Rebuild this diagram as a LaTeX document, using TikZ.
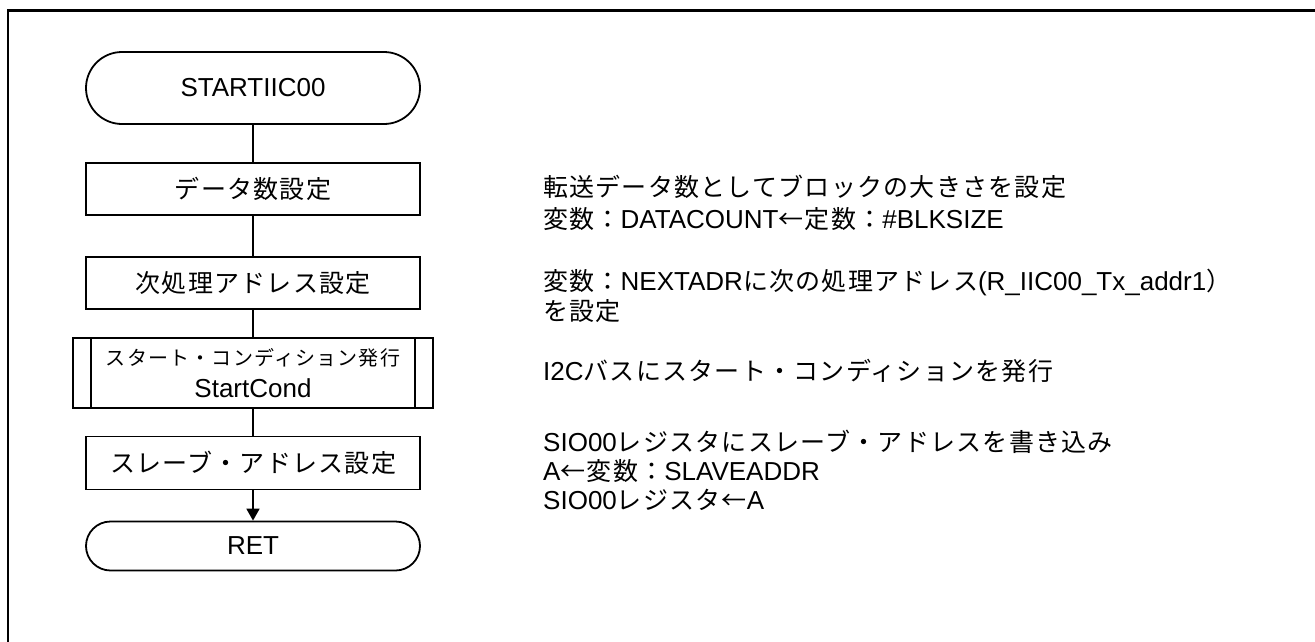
\documentclass[tikz,border=0pt]{standalone}
\usepackage{fontspec}
\setmainfont{Liberation Sans}
\newfontfamily\jp[LetterSpace=5]{Noto Sans CJK JP}
\newfontfamily\jpsub[LetterSpace=6]{Noto Sans CJK JP}
\newcommand{\J}[1]{{\fontsize{25}{30}\selectfont\jp #1}}
\usetikzlibrary{shapes.misc,arrows.meta}
\begin{document}
\begin{tikzpicture}[x=1pt,y=-1pt,
  lw/.style={line width=1.8pt},
  term/.style={lw,draw,rounded rectangle,minimum width=334pt,inner sep=0pt,font=\fontsize{26}{31}\selectfont},
  proc/.style={lw,draw,rectangle,minimum width=334pt,minimum height=52pt,inner sep=0pt,font=\fontsize{26}{31}\selectfont},
  subr/.style={lw,draw,rectangle,minimum width=360pt,minimum height=70pt,inner sep=0pt,align=center,font=\fontsize{26}{31}\selectfont},
  note/.style={anchor=west,inner sep=0pt,text height=20pt,text depth=6pt,font=\fontsize{26}{31}\selectfont},
  conn/.style={lw},
  arr/.style={lw,-{Triangle[length=12pt,width=13pt]}}]
\useasboundingbox (0,0) rectangle (1315,641);
% frame
\coordinate (ftr) at (1316,10.5);
\coordinate (ftl) at (8,10.5);
\coordinate (fbl) at (8,642);
\draw[line width=2.2pt] (ftr) -- (ftl) -- (fbl);
% flowchart
\node[term,minimum height=72pt] (start) at (253,88) {STARTIIC00};
\node[proc] (b1) at (253,189) {\J{データ数設定}};
\node[proc] (b2) at (253,283) {\J{次処理アドレス設定}};
\node[subr] (sub) at (253,373) {{\fontsize{20}{24}\selectfont\jpsub スタート・コンディション発行}\\[1pt]StartCond};
\draw[lw] ([xshift=19pt]sub.north west) -- ([xshift=19pt]sub.south west);
\draw[lw] ([xshift=-19pt]sub.north east) -- ([xshift=-19pt]sub.south east);
\node[proc,minimum height=53pt] (b4) at (253,463) {\J{スレーブ・アドレス設定}};
\node[term,minimum height=49pt] (ret) at (253,546) {RET};
\draw[conn] (start) -- (b1);
\draw[conn] (b1) -- (b2);
\draw[conn] (b2) -- (sub);
\draw[conn] (sub) -- (b4);
\draw[arr] (b4) -- (ret);
% notes
\node[note] (n1) at (543,189) {\J{転送データ数としてブロックの大きさを設定}};
\node[note] (n2) at (543,221) {\J{変数：}DATACOUNT\J{←定数：}\#BLKSIZE};
\node[note] (n3) at (543,283) {\J{変数：}NEXTADR\J{に次の処理アドレス}(R\_IIC00\_Tx\_addr1\J{）}};
\node[note] (n4) at (543,313) {\J{を設定}};
\node[note] (n5) at (543,373) {I2C\J{バスにスタート・コンディションを発行}};
\node[note] (n6) at (543,444) {SIO00\J{レジスタにスレーブ・アドレスを書き込み}};
\node[note] (n7) at (543,473) {A\J{←変数：}SLAVEADDR};
\node[note] (n8) at (543,502) {SIO00\J{レジスタ←}A};
\end{tikzpicture}
\end{document}
